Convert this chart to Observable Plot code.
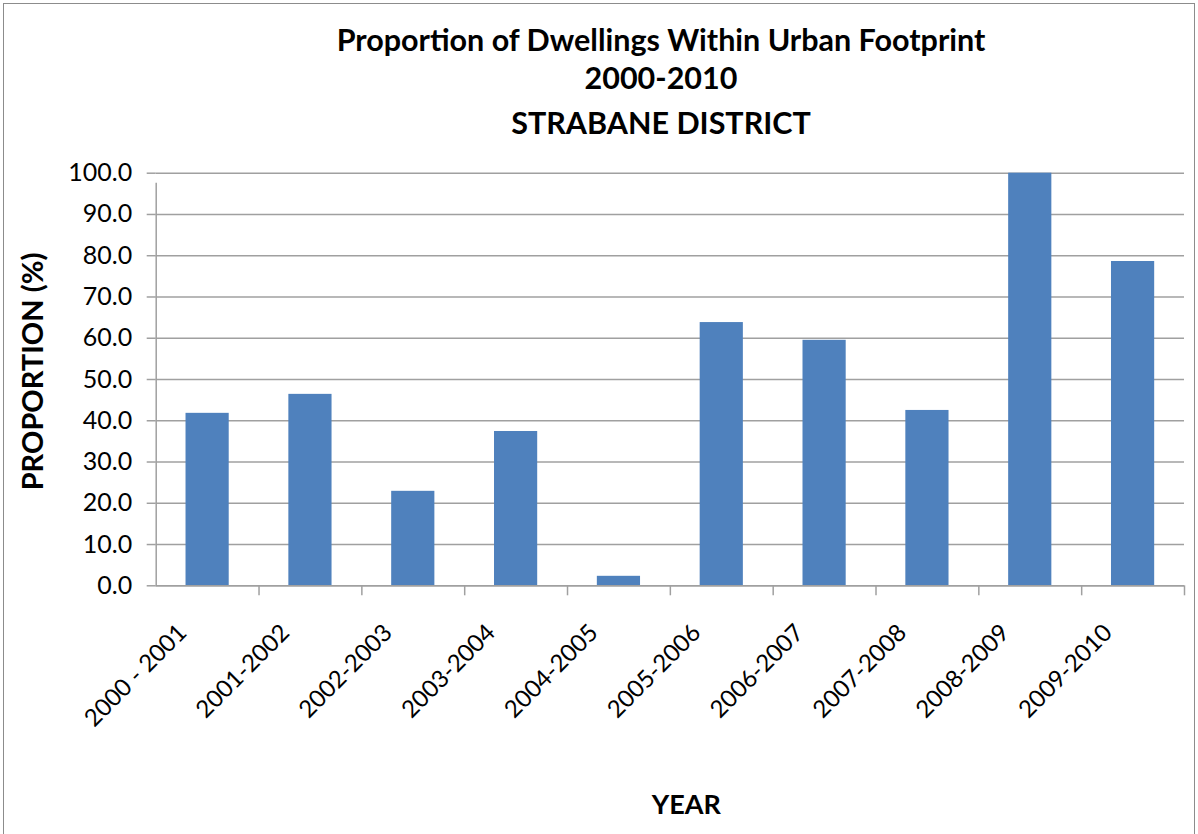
<!DOCTYPE html>
<html>
<head>
<meta charset="utf-8">
<script src="https://cdn.jsdelivr.net/npm/d3@7"></script>
<script src="https://cdn.jsdelivr.net/npm/@observablehq/plot@0.6"></script>
<style>
  html, body { margin: 0; padding: 0; background: #fff; }
  #wrap { position: relative; width: 1198px; height: 834px; overflow: hidden; font-family: Lato, "Open Sans", sans-serif; }
  #border { position: absolute; left: 3px; top: 3px; width: 1192px; height: 840px; border: 1.5px solid #8c8c8c; box-sizing: border-box; }
  .t { position: absolute; left: 0; width: 1322px; text-align: center; font-weight: bold; font-size: 30.5px; line-height: 34px; color: #000; }
  #chart { position: absolute; left: 0; top: 150px; }
</style>
</head>
<body>
<div id="wrap">
  <div id="border"></div>
  <div class="t" style="top:22px">Proportion of Dwellings Within Urban Footprint</div>
  <div class="t" style="top:60px">2000-2010</div>
  <div class="t" style="top:105px">STRABANE DISTRICT</div>
  <div id="chart"></div>
</div>
<script>
const categories = ["2000 - 2001", "2001-2002", "2002-2003", "2003-2004", "2004-2005", "2005-2006", "2006-2007", "2007-2008", "2008-2009", "2009-2010"];
const values = [41.8, 46.4, 22.9, 37.4, 2.3, 63.8, 59.5, 42.5, 100.0, 78.6];
const yTicks = [0, 10, 20, 30, 40, 50, 60, 70, 80, 90, 100];
const yLabel = "PROPORTION (%)";
const xLabel = "YEAR";

const data = categories.map((c, i) => ({cat: c, value: values[i]}));

const W = 1198, H = 684;
const mL = 155.7, mR = 14, mT = 22.7, mB = 248.7;
const step = (W - mL - mR) / categories.length;
const gray = "#a0a0a0";

const chart = Plot.plot({
  width: W,
  height: H,
  marginLeft: mL,
  marginRight: mR,
  marginTop: mT,
  marginBottom: mB,
  style: {fontFamily: "Lato, 'Open Sans', sans-serif", background: "transparent", color: "#000"},
  x: {domain: categories, paddingInner: 0.58, paddingOuter: 0.29, round: false, axis: null},
  y: {domain: [0, 100], axis: null},
  marks: [
    Plot.gridY(yTicks, {stroke: gray, strokeOpacity: 1, strokeWidth: 1.5}),
    Plot.axisY(yTicks, {
      tickFormat: d3.format(".1f"), tickSize: 9, tickPadding: 15, fontSize: 25,
      stroke: gray, strokeWidth: 1.5, label: null
    }),
    Plot.barY(data, {x: "cat", y: "value", fill: "#4f81bd"}),
    Plot.ruleY([0], {stroke: gray, strokeWidth: 1.5}),
    Plot.ruleX([categories[0]], {x: d => d, dx: -step / 2, y1: 0, y2: 100, insetBottom: -10, stroke: gray, strokeWidth: 1.5}),
    Plot.ruleX(categories, {x: d => d, dx: step / 2, y1: 0, y2: 0, insetBottom: -10, stroke: gray, strokeWidth: 1.5}),
    Plot.text(categories, {
      x: d => d, frameAnchor: "bottom", rotate: -45, textAnchor: "end", lineAnchor: "middle",
      dx: -25, dy: 43, fontSize: 24, fill: "#000"
    }),
    Plot.text([yLabel], {
      frameAnchor: "left", rotate: -90, textAnchor: "middle", dx: -122, dy: -8, fontSize: 29, fontWeight: "bold", fill: "#000"
    }),
    Plot.text([xLabel], {
      frameAnchor: "bottom", dx: 16, dy: 228, fontSize: 27, fontWeight: "bold", fill: "#000"
    })
  ]
});
document.getElementById("chart").appendChild(chart);
</script>
</body>
</html>
